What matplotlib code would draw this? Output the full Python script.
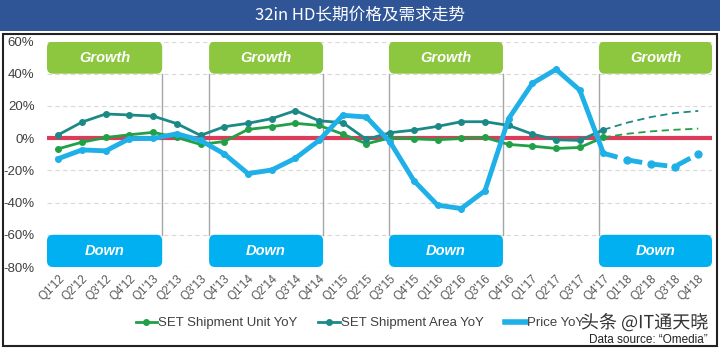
import matplotlib
matplotlib.use("Agg")
import matplotlib.pyplot as plt
from matplotlib.patches import FancyBboxPatch, Rectangle
from matplotlib.lines import Line2D
import matplotlib.patheffects as pe

plt.rcParams['font.family'] = ['Liberation Sans', 'Noto Sans CJK SC', 'DejaVu Sans']

quarters = ["Q1'12", "Q2'12", "Q3'12", "Q4'12", "Q1'13", "Q2'13", "Q3'13", "Q4'13",
            "Q1'14", "Q2'14", "Q3'14", "Q4'14", "Q1'15", "Q2'15", "Q3'15", "Q4'15",
            "Q1'16", "Q2'16", "Q3'16", "Q4'16", "Q1'17", "Q2'17", "Q3'17", "Q4'17",
            "Q1'18", "Q2'18", "Q3'18", "Q4'18"]

# actuals Q1'12 .. Q4'17 (percent)
unit_yoy = [-6.6, -2.5, 0.4, 2.1, 3.6, 0.4, -3.9, -2.1, 5.4, 7.1, 9.2, 7.9,
            2.5, -3.5, 0.2, -0.4, -1.0, -0.2, 0.4, -3.9, -5.0, -6.4, -5.8, 0.5]
area_yoy = [2.1, 10.0, 15.0, 14.4, 13.7, 9.0, 1.7, 7.1, 9.2, 12.1, 17.1, 10.8,
            9.6, -0.8, 3.4, 5.0, 7.3, 10.2, 10.2, 7.9, 2.5, -1.0, -1.4, 5.2]
price_yoy = [-12.7, -7.3, -7.9, -0.3, -0.2, 2.7, -1.4, -9.8, -22.0, -19.8, -12.5, -1.4,
             14.2, 13.1, -2.5, -26.4, -41.6, -43.7, -32.7, 12.1, 34.0, 42.7, 29.8, -9.4]

# forecasts Q4'17 .. Q4'18
unit_fc = [0.5, 2.7, 4.2, 5.2, 5.9]
area_fc = [5.2, 9.6, 13.1, 15.6, 16.9]
price_fc = [-9.4, -13.5, -16.0, -17.7, -9.8]

phase_labels = ["Growth", "Growth", "Growth", "Growth"]
down_labels = ["Down", "Down", "Down", "Down"]

GREEN = '#21a047'
TEAL = '#1b8a87'
BLUE = '#1fb0e8'
RED = '#dc3c5a'
LIME = '#8dc63f'
CYAN = '#00b0f0'

fig = plt.figure(figsize=(7.2, 3.5), dpi=100)

# title bar
fig.patches.append(Rectangle((0, 1 - 31 / 350), 1, 31 / 350, transform=fig.transFigure,
                             facecolor='#2f5597', edgecolor='none', zorder=0))
fig.text(0.5, 1 - 15.5 / 350, "32in HD长期价格及需求走势", color='white', fontsize=12,
         ha='center', va='center', family=['Noto Sans CJK SC', 'DejaVu Sans'])
# frame
fig.patches.append(Rectangle((3 / 720, 1 - 346 / 350), 714 / 720, (346 - 34) / 350,
                             transform=fig.transFigure, facecolor='none',
                             edgecolor='#222222', lw=1.5, zorder=0))

ax = fig.add_axes([47 / 720, 1 - 267 / 350, (712 - 47) / 720, (267 - 41.5) / 350])
ax.set_xlim(-0.48, 27.58)
ax.set_ylim(-80, 60)
for s in ax.spines.values():
    s.set_visible(False)

ax.set_yticks(range(-80, 61, 20))
ax.set_yticklabels([f"{v}%" for v in range(-80, 61, 20)], fontsize=9.5, color='#404040')
ax.set_xticks(range(len(quarters)))
ax.set_xticklabels(quarters, rotation=45, ha='right', rotation_mode='anchor',
                   fontsize=8.5, color='#595959')
ax.tick_params(axis='y', length=0, pad=9)
ax.tick_params(axis='x', length=0, pad=4)
ax.grid(axis='y', color='#d9d9d9', ls=(0, (4, 3)), lw=0.8)
ax.set_axisbelow(True)

# phase boxes
box_x = [(-0.48, 4.38), (6.36, 11.17), (13.95, 18.76), (22.81, 27.58)]
aspect = 14.7
for (x0, x1), gl, dl in zip(box_x, phase_labels, down_labels):
    for (y0, y1, c, lab) in [(40, 60, LIME, gl), (-80, -60, CYAN, dl)]:
        p = FancyBboxPatch((x0, y0), x1 - x0, y1 - y0,
                           boxstyle="round,pad=0,rounding_size=0.25",
                           mutation_aspect=aspect, facecolor=c, edgecolor='none', zorder=2)
        ax.add_patch(p)
        ax.text((x0 + x1) / 2, (y0 + y1) / 2, lab, color='white', fontsize=10.5,
                fontweight='bold', fontstyle='italic', ha='center', va='center', zorder=3)

for xv in [4.38, 6.36, 11.17, 13.95, 18.76, 22.81]:
    ax.plot([xv, xv], [-60, 40], color='#a6a6a6', lw=1, zorder=1.5)

ax.axhline(0, color=RED, lw=3, zorder=2.5)

xa = list(range(len(unit_yoy)))
xf = list(range(len(unit_yoy) - 1, len(quarters)))

ax.plot(xa, unit_yoy, color=GREEN, lw=2, marker='o', ms=4, zorder=4)
ax.plot(xa, area_yoy, color=TEAL, lw=2, marker='o', ms=4, zorder=4)
ax.plot(xa, price_yoy, color=BLUE, lw=3.5, marker='o', ms=4, zorder=5)

ax.plot(xf, unit_fc, color=GREEN, lw=1.3, ls=(0, (4, 2.5)), zorder=4)
ax.plot(xf, area_fc, color=TEAL, lw=1.3, ls=(0, (4, 2.5)), zorder=4)
ax.plot(xf, price_fc, color=BLUE, lw=3.5, ls=(0, (3, 2.2)), zorder=5)
ax.plot(xf[1:], price_fc[1:], color=BLUE, lw=0, marker='o', ms=5, zorder=5)

handles = [Line2D([], [], color=GREEN, lw=2, marker='o', ms=4),
           Line2D([], [], color=TEAL, lw=2, marker='o', ms=4),
           Line2D([], [], color=BLUE, lw=4)]
fig.legend(handles, ["SET Shipment Unit YoY", "SET Shipment Area YoY", "Price YoY"],
           loc='center', bbox_to_anchor=(0.5, 1 - 323 / 350), ncol=3, frameon=False,
           fontsize=9.5, handlelength=1.6, handletextpad=0.1, columnspacing=1.6,
           labelcolor='#404040')

fig.text(708 / 720, 1 - 323 / 350, "头条 @IT通天晓", fontsize=13, ha='right', va='center',
         color='#333333', family=['Noto Sans CJK SC', 'DejaVu Sans'],
         path_effects=[pe.withStroke(linewidth=2, foreground='white')])
fig.text(708 / 720, 1 - 340 / 350, "Data source: \u201cOmedia\u201d", fontsize=8.5,
         ha='right', va='center', color='#222222')

fig.savefig("out.png", dpi=100)
